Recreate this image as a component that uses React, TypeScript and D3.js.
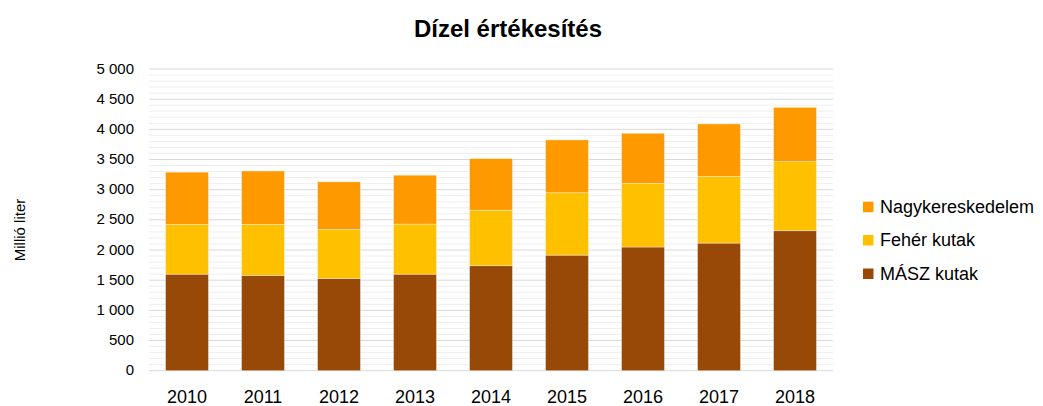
import React from "react";
import * as d3 from "d3";

const years = ["2010", "2011", "2012", "2013", "2014", "2015", "2016", "2017", "2018"];
const maszKutak = [1600, 1580, 1530, 1600, 1740, 1915, 2050, 2115, 2320];
const feherKutak = [825, 845, 810, 830, 920, 1035, 1055, 1105, 1145];
const nagykereskedelem = [865, 885, 790, 810, 855, 875, 830, 870, 900];
const seriesNames = ["MÁSZ kutak", "Fehér kutak", "Nagykereskedelem"];
const seriesColors = ["#984807", "#FFC000", "#FF9900"];
const yTicks = [0, 500, 1000, 1500, 2000, 2500, 3000, 3500, 4000, 4500, 5000];

const W = 1043;
const H = 406;
const left = 149;
const right = 833;
const top = 69;
const bottom = 370.7;

export default function App() {
  const x = d3.scaleBand<string>().domain(years).range([left, right]).paddingInner(0.435).paddingOuter(0.2175);
  const y = d3.scaleLinear().domain([0, 5000]).range([bottom, top]);

  const rows = years.map((yr, i) => ({
    year: yr,
    "MÁSZ kutak": maszKutak[i],
    "Fehér kutak": feherKutak[i],
    Nagykereskedelem: nagykereskedelem[i],
  }));
  const stack = d3.stack<any>().keys(seriesNames)(rows);

  const minorTicks = d3.range(0, 5001, 100).filter((v) => v % 500 !== 0);
  const fmt = (v: number) => d3.format(",")(v).replace(/,/g, " ");
  const font = "Liberation Sans, Arial, sans-serif";

  const legendItems = [
    { name: "Nagykereskedelem", color: seriesColors[2], y: 206.7 },
    { name: "Fehér kutak", color: seriesColors[1], y: 240 },
    { name: "MÁSZ kutak", color: seriesColors[0], y: 273.5 },
  ];

  return (
    <svg width={W} height={H} style={{ position: "absolute", left: 0, top: 0 }} fontFamily={font}>
      <rect width={W} height={H} fill="#fff" />
      <text x={508} y={37} textAnchor="middle" fontSize={24} fontWeight="bold" fill="#000">
        Dízel értékesítés
      </text>
      {minorTicks.map((v) => (
        <line key={"m" + v} x1={left} x2={right} y1={y(v)} y2={y(v)} stroke="#eeeeee" strokeWidth={1} />
      ))}
      {yTicks.map((v) => (
        <line key={"g" + v} x1={left} x2={right} y1={y(v)} y2={y(v)} stroke="#d9d9d9" strokeWidth={1} />
      ))}
      {yTicks.map((v) => (
        <text key={"t" + v} x={134} y={y(v) + 4.5} textAnchor="end" fontSize={15} fill="#000">
          {fmt(v)}
        </text>
      ))}
      {stack.map((s, si) =>
        s.map((d: any, i: number) => (
          <rect
            key={si + "-" + i}
            x={x(years[i])}
            y={y(d[1])}
            width={x.bandwidth()}
            height={y(d[0]) - y(d[1])}
            fill={seriesColors[si]}
            stroke="#ffffff"
            strokeOpacity={0.5}
            strokeWidth={0.75}
          />
        ))
      )}
      {years.map((yr) => (
        <text key={"x" + yr} x={(x(yr) as number) + x.bandwidth() / 2} y={403} textAnchor="middle" fontSize={18} fill="#000">
          {yr}
        </text>
      ))}
      <text transform="translate(25,230) rotate(-90)" textAnchor="middle" fontSize={15} fill="#000">
        Millió liter
      </text>
      {legendItems.map((it) => (
        <g key={it.name}>
          <rect x={863} y={it.y - 5} width={10.5} height={10.5} fill={it.color} />
          <text x={880} y={it.y + 6} fontSize={18} fill="#000">
            {it.name}
          </text>
        </g>
      ))}
    </svg>
  );
}
